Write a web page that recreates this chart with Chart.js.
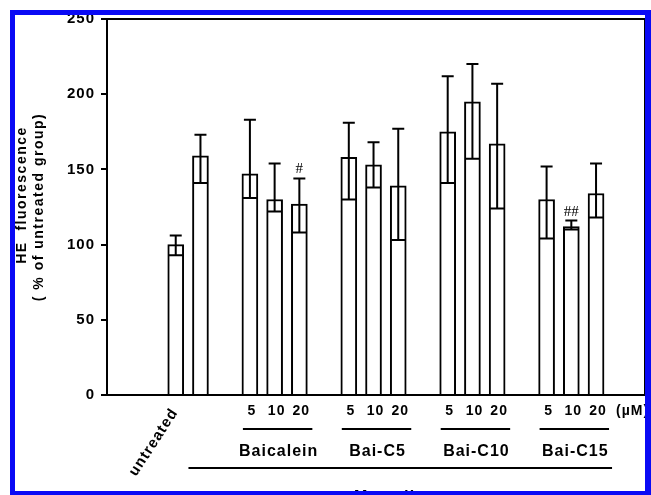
<!DOCTYPE html>
<html>
<head>
<meta charset="utf-8">
<script src="https://cdn.jsdelivr.net/npm/chart.js@4.4.0/dist/chart.umd.min.js"></script>
<style>
  html, body { margin: 0; padding: 0; background: #fff; }
  canvas { display: block; }
</style>
</head>
<body>
<canvas id="heChart" width="651" height="495"></canvas>
<script>
// one slot per bar, '' slots are the gaps between groups
const doseLabels = ['untreated', '', '', '5', '10', '20', '', '5', '10', '20', '', '5', '10', '20', '', '5', '10', '20'];
const means      = [100, 159, null, 147, 130, 127, null, 158, 153, 139, null, 175, 195, 167, null, 130, 112, 134];
const errUp      = [6, 14, null, 36, 24, 17, null, 23, 15, 38, null, 37, 25, 40, null, 22, 4, 20];
const errDown    = [7, 18, null, 16, 8, 19, null, 28, 15, 36, null, 34, 38, 43, null, 26, 2, 16];
const marks      = ['', '', '', '', '', '#', '', '', '', '', '', '', '', '', '', '', '##', ''];
const groupNames = ['Baicalein', 'Bai-C5', 'Bai-C10', 'Bai-C15'];
const groupSlots = [[3, 5], [7, 9], [11, 13], [15, 17]];
const yTicks     = [0, 50, 100, 150, 200, 250];
const yTitle     = ['HE  fluorescence', '( % of untreated group)'];
const outerLabel = 'Menadione';
const unitLabel  = '(\u00b5M)';

const FONT = "'Liberation Sans', Arial, sans-serif";

function put(ctx, s, x, y, font, align, base, spacing) {
  ctx.save();
  ctx.font = font;
  ctx.letterSpacing = (spacing || 0) + 'px';
  ctx.textAlign = align || 'center';
  ctx.textBaseline = base || 'middle';
  ctx.fillStyle = '#000';
  ctx.fillText(s, x, y);
  ctx.restore();
}

function hline(ctx, x1, x2, y, w) {
  ctx.beginPath();
  ctx.lineWidth = w || 2;
  ctx.strokeStyle = '#000';
  ctx.moveTo(x1, y); ctx.lineTo(x2, y);
  ctx.stroke();
}

const pagePlugin = {
  id: 'page',
  beforeDraw(chart) {
    const ctx = chart.ctx;
    ctx.save();
    ctx.fillStyle = '#fff';
    ctx.fillRect(0, 0, chart.width, chart.height);
    ctx.restore();
    ctx.letterSpacing = '1px';
  },
  afterDatasetsDraw(chart) {
    const ctx = chart.ctx, a = chart.chartArea;
    const ys = chart.scales.y;
    // frame top + right
    ctx.save();
    ctx.strokeStyle = '#000';
    ctx.lineWidth = 2;
    ctx.beginPath();
    ctx.moveTo(a.left, a.top); ctx.lineTo(a.right, a.top); ctx.lineTo(a.right, a.bottom);
    ctx.stroke();
    ctx.restore();

    // error bars
    const ds = chart.data.datasets[0];
    const meta = chart.getDatasetMeta(0);
    meta.data.forEach((bar, j) => {
      const slot = ds.data[j].x;
      const v = means[slot];
      const top = ys.getPixelForValue(v + errUp[slot]);
      const low = ys.getPixelForValue(v - errDown[slot]);
      ctx.save();
      ctx.strokeStyle = '#000';
      ctx.lineWidth = 2;
      ctx.beginPath();
      ctx.moveTo(bar.x, top); ctx.lineTo(bar.x, low);
      ctx.moveTo(bar.x - 6, top); ctx.lineTo(bar.x + 6, top);
      ctx.moveTo(bar.x - 7, low); ctx.lineTo(bar.x + 7, low);
      ctx.stroke();
      ctx.restore();
      if (marks[slot]) {
        put(ctx, marks[slot], bar.x, top - 5, "15px 'Liberation Serif', serif", 'center', 'alphabetic', 0);
      }
    });
  },
  afterDraw(chart) {
    const ctx = chart.ctx;
    const xs = chart.scales.x;
    const px = i => xs.getPixelForValue(i);

    // dose labels under bars
    doseLabels.forEach((s, i) => {
      if (!s || i === 0) return;
      put(ctx, s, px(i) + 2, 411, 'bold 14px ' + FONT, 'center', 'middle', 1);
    });
    // untreated rotated label
    ctx.save();
    ctx.translate(px(0) - 1, 410);
    ctx.rotate(-57 * Math.PI / 180);
    put(ctx, doseLabels[0], 0, 0, 'bold 15px ' + FONT, 'right', 'middle', 1);
    ctx.restore();

    // groups
    groupNames.forEach((g, k) => {
      const [f, t] = groupSlots[k];
      hline(ctx, px(f) - 7, px(t) + 13, 429, 2);
      put(ctx, g, (px(f) + px(t)) / 2 + 4, 452, 'bold 16px ' + FONT, 'center', 'middle', 1);
    });
    // menadione line
    const x1 = px(1) - 12, x2 = px(17) + 16;
    hline(ctx, x1, x2, 468, 2);
    put(ctx, outerLabel, (x1 + x2) / 2, 502, 'bold 16px ' + FONT, 'center', 'alphabetic', 1);
    put(ctx, unitLabel, px(17) + 20, 411, 'bold 14px ' + FONT, 'left', 'middle', 1);

    // y title
    ctx.save();
    ctx.translate(26, 195);
    ctx.rotate(-Math.PI / 2);
    put(ctx, yTitle[0], 0, 0, 'bold 14px ' + FONT, 'center', 'alphabetic', 1.5);
    ctx.restore();
    ctx.save();
    ctx.translate(43, 207);
    ctx.rotate(-Math.PI / 2);
    put(ctx, yTitle[1], 0, 0, 'bold 14px ' + FONT, 'center', 'alphabetic', 1.5);
    ctx.restore();

    // blue page border
    ctx.save();
    ctx.fillStyle = '#0a0af5';
    ctx.fillRect(10, 10, 641, 5);
    ctx.fillRect(10, 10, 5, 485);
    ctx.fillRect(645, 10, 6, 485);
    ctx.fillRect(10, 491, 641, 4);
    ctx.restore();
  }
};

const points = means.map((v, i) => v == null ? null : { x: i, y: v }).filter(Boolean);

new Chart(document.getElementById('heChart'), {
  type: 'bar',
  data: {
    datasets: [{
      data: points,
      backgroundColor: '#fff',
      borderColor: '#000',
      borderWidth: 2,
      barThickness: 16
    }]
  },
  options: {
    responsive: false,
    animation: false,
    devicePixelRatio: 1,
    layout: { padding: { top: 19, right: 6, left: 0, bottom: 0 } },
    plugins: { legend: { display: false }, tooltip: { enabled: false } },
    scales: {
      x: {
        type: 'linear',
        offset: false,
        min: -2.78,
        max: 18.98,
        ticks: { display: false },
        grid: { display: false, offset: false },
        border: { display: true, color: '#000', width: 2 },
        afterFit(scale) { scale.height = 100; }
      },
      y: {
        min: 0,
        max: 250,
        afterBuildTicks(scale) { scale.ticks = yTicks.map(v => ({ value: v })); },
        ticks: { color: '#000', font: { family: FONT, size: 15, weight: 'bold' }, padding: 6 },
        grid: { drawOnChartArea: false, drawTicks: true, tickLength: 6, color: '#000', lineWidth: 2 },
        border: { color: '#000', width: 2 },
        afterFit(scale) { scale.width = 107; }
      }
    }
  },
  plugins: [pagePlugin]
});
</script>
</body>
</html>
